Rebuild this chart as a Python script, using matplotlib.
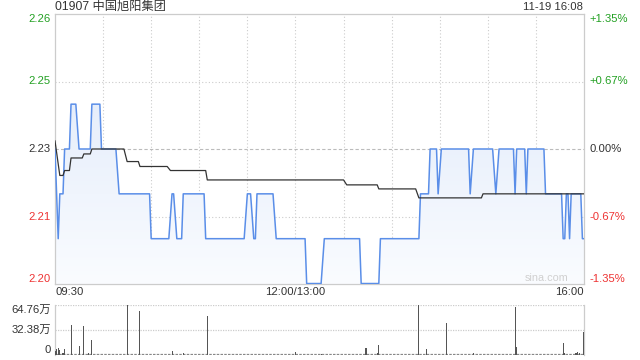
import numpy as np
import matplotlib
matplotlib.use("Agg")
import matplotlib.pyplot as plt
from matplotlib.colors import LinearSegmentedColormap
from matplotlib.transforms import blended_transform_factory

plt.rcParams['font.family'] = ['Liberation Sans', 'Noto Sans CJK SC', 'DejaVu Sans']

# ---------------- data ----------------
title = "01907 中国旭阳集团"
stamp = "11-19 16:08"
prev_close = 2.23
pct_range = 0.0135

# price vertices: minute index since 09:30 (lunch removed), price
price_min = [0, 2, 3, 5, 6, 9, 10, 13, 15, 22, 23, 28, 29, 38, 40, 59, 60, 71, 73, 74,
             76, 79, 80, 93, 94, 118, 120, 122, 124, 125, 126, 136, 138, 156, 157, 166, 168, 190, 191, 202,
             203, 227, 228, 233, 234, 238, 239, 241, 258, 259, 261, 273, 275, 277, 286, 287, 288, 293, 294, 295,
             305, 306, 316, 317, 318, 319, 320, 321, 322, 328, 329, 330]
price_val = [2.23, 2.21, 2.22, 2.22, 2.23, 2.23, 2.24, 2.24, 2.23, 2.23, 2.24, 2.24, 2.23, 2.23, 2.22, 2.22, 2.21, 2.21, 2.22, 2.22,
             2.21, 2.21, 2.22, 2.22, 2.21, 2.21, 2.22, 2.22, 2.21, 2.21, 2.22, 2.22, 2.21, 2.21, 2.20, 2.20, 2.21, 2.21, 2.20, 2.20,
             2.21, 2.21, 2.22, 2.22, 2.23, 2.23, 2.22, 2.23, 2.23, 2.22, 2.23, 2.23, 2.22, 2.23, 2.23, 2.22, 2.23, 2.23, 2.22, 2.23,
             2.23, 2.22, 2.22, 2.21, 2.21, 2.22, 2.22, 2.21, 2.22, 2.22, 2.21, 2.21]

avg_min = [0, 3, 5, 6, 9, 10, 17, 18, 22, 23, 43, 45, 52, 53, 70, 72, 94, 95, 180, 182,
           201, 202, 225, 227, 266, 267, 330]
avg_val = [2.2318, 2.2241, 2.2241, 2.2252, 2.2252, 2.2280, 2.2280, 2.2289, 2.2289, 2.2300, 2.2300, 2.2272, 2.2272,
           2.2261, 2.2261, 2.2252, 2.2252, 2.2231, 2.2231, 2.2220, 2.2220, 2.2211, 2.2211, 2.2191, 2.2191, 2.2200, 2.2200]

# volume bars (万股)
vol_min = [0, 1, 2, 3, 5, 6, 10, 15, 18, 21, 23, 45, 53, 73, 80, 95, 150, 166, 194, 201, 202,
           227, 232, 244, 261, 287, 288, 317, 318, 325, 326, 327, 330]
vol_val = [4.3, 7.3, 8.6, 5.6, 2.0, 7.3, 38.9, 11.2, 37.1, 2.6, 19.4, 64.76, 57.0, 5.2, 2.0, 50.5, 3.5, 1.5, 8.6, 1.8, 12.5,
           64.76, 7.3, 41.0, 2.0, 61.7, 10.0, 15.1, 2.6, 2.5, 3.0, 2.0, 30.0]
vol_max = 64.76

left_labels = ["2.26", "2.25", "2.23", "2.21", "2.20"]
right_labels = ["+1.35%", "+0.67%", "0.00%", "-0.67%", "-1.35%"]
label_colors = ["#22a022", "#22a022", "#333333", "#ee3333", "#ee3333"]
time_labels = ["09:30", "12:00/13:00", "16:00"]
time_pos = [0, 150, 330]
vol_labels = ["64.76万", "32.38万", "0"]

# ---------------- figure ----------------
W, H = 640, 360
fig = plt.figure(figsize=(6.4, 3.6), dpi=100)

def px(x0, y0, x1, y1):
    return [x0 / W, 1 - y1 / H, (x1 - x0) / W, (y1 - y0) / H]

ax = fig.add_axes(px(55, 14, 584, 284))
axv = fig.add_axes(px(55, 304.7, 584, 354.7))

ymin = prev_close * (1 - pct_range)
ymax = prev_close * (1 + pct_range)
ax.set_xlim(0, 330)
ax.set_ylim(ymin, ymax)

# gradient fill under price
px_arr = np.array(price_min, float)
py_arr = np.array(price_val, float)
poly = ax.fill_between(px_arr, py_arr, ymin, color='none', lw=0)
cmap = LinearSegmentedColormap.from_list('g', ['#fafcff', '#dce7f9'])
grad = np.linspace(0, 1, 256).reshape(-1, 1)
im = ax.imshow(grad, extent=[0, 330, ymin, ymax], origin='lower', aspect='auto',
               cmap=cmap, zorder=1)
path = poly.get_paths()[0]
im.set_clip_path(path, transform=ax.transData)

ax.plot(px_arr, py_arr, color='#5a8ee8', lw=1.1, zorder=3)
ax.plot(avg_min, avg_val, color='#333333', lw=0.9, zorder=4)

# grid
for m in range(30, 330, 30):
    ax.axvline(m, color='#cccccc', lw=0.8, ls=(0, (1, 2)), zorder=0.5)
ticks = np.linspace(ymin, ymax, 5)
for t in ticks[1:4]:
    if abs(t - prev_close) < 1e-6:
        ax.axhline(t, color='#bbbbbb', lw=0.8, ls=(0, (3, 2)), zorder=0.5)
    else:
        ax.axhline(t, color='#cccccc', lw=0.8, ls=(0, (1, 2)), zorder=0.5)

for s in ax.spines.values():
    s.set_color('#cccccc')
    s.set_linewidth(0.9)
ax.set_xticks([])
ax.set_yticks([])

fs = 8.1
ticks_desc = ticks[::-1]
for i, t in enumerate(ticks_desc):
    va = 'center'
    if i == 0:
        va = 'top'
    elif i == 4:
        va = 'bottom'
    ax.text(-0.008, t, left_labels[i], transform=blended_transform_factory(ax.transAxes, ax.transData),
            ha='right', va=va, fontsize=fs, color=label_colors[i])
    ax.text(1.011, t, right_labels[i], transform=blended_transform_factory(ax.transAxes, ax.transData),
            ha='left', va=va, fontsize=fs, color=label_colors[i])

tr = blended_transform_factory(ax.transData, ax.transAxes)
has = ['left', 'center', 'right']
for lab, pos, ha in zip(time_labels, time_pos, has):
    ax.text(pos, -0.012, lab, transform=tr, ha=ha, va='top', fontsize=fs, color='#333333')

ax.text(0.97, 0.005, "sina.com", transform=ax.transAxes, ha='right', va='bottom',
        fontsize=7.8, color='#d0d0d0', zorder=5)

fig.text(55 / W, 1 - 7 / H, title, ha='left', va='center', fontsize=8.8, color='#333333')
fig.text(583 / W, 1 - 7 / H, stamp, ha='right', va='center', fontsize=fs, color='#333333')

# volume panel
axv.set_xlim(0, 330)
axv.set_ylim(0, vol_max)
axv.bar(vol_min, vol_val, width=0.65, color='#555555', lw=0, zorder=3)
axv.axhline(vol_max, color='#cccccc', lw=0.9, ls=(0, (1, 1)), zorder=1)
axv.axhline(vol_max / 2, color='#cccccc', lw=0.9, ls=(0, (1, 1)), zorder=1)
axv.axhline(0.4, color='#888888', lw=0.9, ls=(0, (2, 1)), zorder=2)
for k in ['top', 'bottom']:
    axv.spines[k].set_visible(False)
for k in ['left', 'right']:
    axv.spines[k].set_color('#cccccc')
    axv.spines[k].set_linewidth(0.9)
axv.set_xticks([])
axv.set_yticks([])
vtr = blended_transform_factory(axv.transAxes, axv.transData)
vpos = [vol_max, vol_max / 2, 0]
vvas = ['top', 'center', 'bottom']
for lab, p, va in zip(vol_labels, vpos, vvas):
    axv.text(-0.008, p, lab, transform=vtr, ha='right', va=va, fontsize=fs, color='#333333')

fig.savefig("out.png", dpi=100)
